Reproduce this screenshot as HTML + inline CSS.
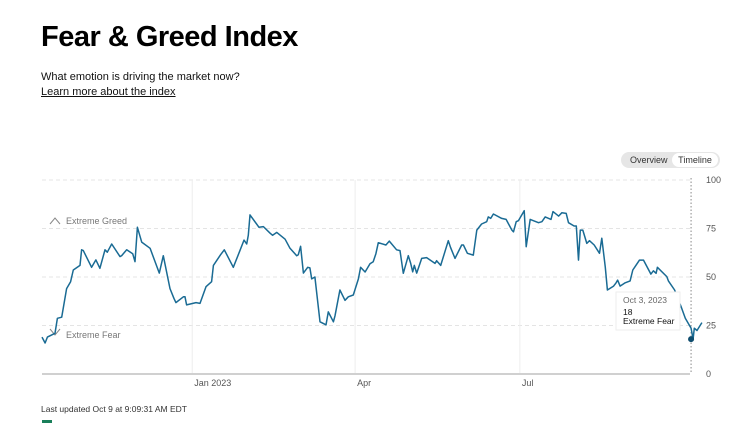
<!DOCTYPE html>
<html><head><meta charset="utf-8"><style>
body{margin:0;width:740px;height:423px;overflow:hidden;background:#fff;font-family:"Liberation Sans",sans-serif;position:relative}
.t{position:absolute;white-space:nowrap}
</style></head><body>
<div class="t" style="left:41px;top:21px;font-size:29px;font-weight:bold;color:#000;letter-spacing:-0.5px">Fear &amp; Greed Index</div>
<div class="t" style="left:41px;top:71px;font-size:11px;color:#111">What emotion is driving the market now?</div>
<div class="t" style="left:41px;top:86px;font-size:11px;color:#111;text-decoration:underline">Learn more about the index</div>
<div style="position:absolute;left:621px;top:152px;width:99px;height:16px;background:#e6e6e6;border-radius:9px">
<div class="t" style="left:9px;top:3px;font-size:9px;color:#333">Overview</div>
<div class="t" style="left:51px;top:1px;width:46px;height:14px;background:#fff;border-radius:8px;font-size:9px;color:#333;text-align:center;line-height:14px">Timeline</div>
</div>
<svg id="chart" width="740" height="423" style="position:absolute;left:0;top:0"></svg>
<div class="t" style="left:41px;top:404px;font-size:8.5px;color:#333">Last updated Oct 9 at 9:09:31 AM EDT</div>
<div style="position:absolute;left:42px;top:420px;width:10px;height:3px;background:#1a7f5a"></div>
<script>
const days=[0,1.7,3,7.2,8.5,10.9,13.6,15.8,17.3,21,21.9,22.8,27.4,29.8,32,34.8,36.1,38.5,43.1,44,46.8,50.1,51.4,52.7,55.1,59.7,64.8,67,70.7,72.9,74,78.1,79,79.9,85.1,87.3,90.6,93.7,94.7,98.7,100.7,105.7,109,111.6,113.1,114,114.9,119.9,122.3,126,127.4,129.7,134.3,137,140.7,141.6,142.9,144.4,146.8,148,149,150.8,153.6,155.8,156.9,158.2,161,161.9,164.6,167.4,169.2,172,174.8,176,178.5,181.2,183,184.5,185.8,190,191.9,195.9,197.8,199.6,202.4,203.7,204.8,205.7,207,209.8,212.5,217.1,218,220.3,224.5,225.7,228.2,231.9,232.8,235,238.3,240.2,242.9,245.7,246.6,247.9,249.4,254,256.4,259.6,260.5,262,263.2,266.4,267.5,269.7,274.3,276.2,278,281.2,282.3,285.4,287.2,289.6,290.9,294,295.2,296.4,297.4,298.8,301,302.5,305.1,308,309.3,311.2,312.4,315.8,317.2,318,319.4,322.2,324.9,326.4,330.1,332.3,336.4,337.8,339.3,340,345.2,346.1,349.5,353,355.4,358.6,359.7,360.4,361.9,364.6];
const values=[19,16,19,21,28.7,29.3,44,47.6,53.6,56,64,63.6,55,58.8,54.5,64,62.8,67,60.5,61,64,62,57.9,75.6,68,64.8,52,61,44,39,36.8,39.8,39.8,35.6,36.8,36.4,45,47.6,56,61.5,64,55,62.8,69,67,71.5,82,75.6,76,72.6,71.5,73,69.5,64.8,61,61.5,65.8,52,55,54.7,49,50,26.9,25.9,25.3,32,26.9,30,43.3,38,39.8,40.7,49,55,52.6,56.8,57.9,62,67.7,66.5,68.5,64,63.6,51.9,61,57,52.7,56,52,59.6,60,57,58.4,56,68.7,65.3,59.6,66.5,66.5,62.2,61.3,74.2,77.3,78.5,81,80.2,82.5,80.2,79.7,74.2,73.3,78.5,79,84.2,65.6,79.7,78,78.5,81,79.7,83.7,81.4,83.1,82.8,78,76.3,76.3,58.7,74.2,74.2,67.3,68.7,66.5,62.2,70,55,43.3,45.3,47,48.4,45.3,47,48,53.6,58.7,58.7,51.5,53.2,51.9,55,50.2,48,43.3,35,28.7,23.6,18,23.6,22.4,26.5,26.5];
const yTicks=[0,25,50,75,100];
const xTickLabels=["Jan 2023","Apr","Jul"];
const xTickDays=[83,173,264];
const hoverDay=358.6, hoverValue=18;
const ns="http://www.w3.org/2000/svg";
const svg=document.getElementById('chart');
const X=d=>42+d*1.81, Y=v=>374-v*1.94;
function mk(tag,attrs){const e=document.createElementNS(ns,tag);for(const k in attrs)e.setAttribute(k,attrs[k]);svg.appendChild(e);return e;}
yTicks.forEach(t=>{
  if(t>0){const g=mk('line',{x1:42,x2:690,y1:Y(t),y2:Y(t),stroke:'#e4e4e4','stroke-dasharray':'4,3'});
  
  }
  const l=mk('text',{x:706,y:Y(t)+3,'font-size':9,fill:'#555','font-family':'Liberation Sans, sans-serif'});l.textContent=t;
  
  
});
xTickDays.forEach((d,i)=>{
  const g=mk('line',{x1:X(d),x2:X(d),y1:180,y2:374,stroke:'#eeeeee'});
  
  
  const l=mk('text',{x:X(d)+2,y:386,'font-size':9,fill:'#555','font-family':'Liberation Sans, sans-serif'});l.textContent=xTickLabels[i];
  
  
});
const base=mk('line',{x1:42,x2:690,y1:374,y2:374,stroke:'#d0d0d0','stroke-width':2});


const vl=mk('line',{x1:X(hoverDay),x2:X(hoverDay),y1:178,y2:374,stroke:'#888','stroke-dasharray':'1.5,2'});


[['Extreme Greed',221,'M50 224 L55 218 L60 224'],['Extreme Fear',335,'M50 329 L55 335 L60 329']].forEach(([s,y,p])=>{
  const a=mk('path',{d:p,stroke:'#888',fill:'none','stroke-width':1});
  
  
  const t=mk('text',{x:66,y:y+3,'font-size':9,fill:'#777','font-family':'Liberation Sans, sans-serif'});t.textContent=s;
  
  
});
const line=mk('path',{d:days.map((d,i)=>(i?'L':'M')+X(d).toFixed(1)+' '+Y(values[i]).toFixed(1)).join(' '),fill:'none',stroke:'#1a6b94','stroke-width':1.5,'stroke-linejoin':'round'});


const tb=mk('rect',{x:616,y:292,width:64,height:38,fill:'#fff',stroke:'#eee'});


[['Oct 3, 2023',303,'#666'],['18',315,'#111'],['Extreme Fear',324,'#111']].forEach(([s,y,c])=>{
  const t=mk('text',{x:623,y:y,'font-size':8.5,fill:c,'font-family':'Liberation Sans, sans-serif'});t.textContent=s;
  
  
});
const dot=mk('circle',{cx:X(hoverDay),cy:Y(hoverValue),r:3,fill:'#0f4d6e'});


</script>
</body></html>
